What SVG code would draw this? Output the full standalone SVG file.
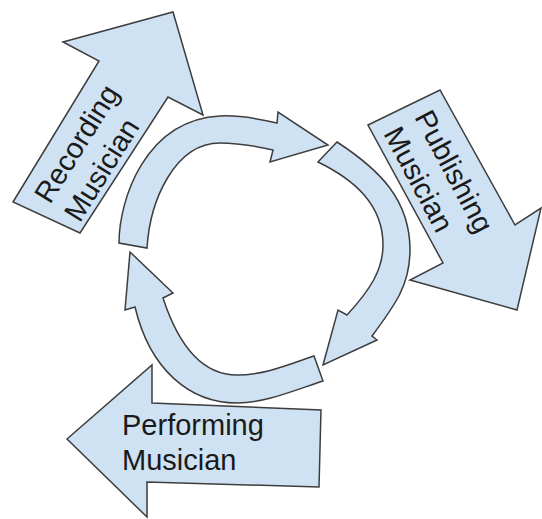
<svg xmlns="http://www.w3.org/2000/svg" width="542" height="519" viewBox="0 0 542 519">
  <style>
    .shape { fill: #cfe2f3; stroke: #3d3d3d; stroke-width: 1.5; stroke-linejoin: miter; }
    .label { font-family: "Liberation Sans", Arial, sans-serif; font-size: 29px; fill: #1a1a1a; }
  </style>
  <rect width="542" height="519" fill="#ffffff"/>

  <!-- Big block arrows with role labels -->
  <g id="recording">
    <path class="shape" d="M13,202 L99,61 L63,42 L173,12 L203,115 L168,97 L80,233 Z"/>
    <g transform="translate(50,205) rotate(-58)">
      <text class="label" x="0" y="0">Recording</text>
      <text class="label" x="0" y="35">Musician</text>
    </g>
  </g>

  <g id="publishing">
    <path class="shape" d="M368,125 L440,90 L515,225 L541,208 L517,310 L410,280 L443,263 Z"/>
    <g transform="translate(414,117) rotate(62)">
      <text class="label" x="0" y="0">Publishing</text>
      <text class="label" x="0" y="35">Musician</text>
    </g>
  </g>

  <g id="performing">
    <path class="shape" d="M67,439 L152,365 L152,403 L321,410 L319,487 L147,482 L147,517 Z"/>
    <text class="label" x="122" y="435">Performing</text>
    <text class="label" x="122" y="470">Musician</text>
  </g>

  <!-- Curved cycle arrows -->
  <g id="connectors">
    <path class="shape" d="M119,243 C119,200 145,120 220,116 C240,115 260,119 277,123 L278,112 L328,145 L270,162 L273,150 C255,146 238,143 220,143 C175,143 150,200 147,248 Z"/>
    <path class="shape" d="M337,142 C380,170 410,200 410,250 C410,285 395,305 372,336 L377,340 L323,365 L338,310 L347,315 C370,290 383,270 383,245 C383,205 355,180 318,162 Z"/>
    <path class="shape" d="M314,356 C290,364 265,375 237,375 C205,375 180,350 163,298 L173,293 L130,252 L125,310 L135,307 C150,370 190,403 237,403 C265,403 295,390 323,381 Z"/>
  </g>
</svg>
